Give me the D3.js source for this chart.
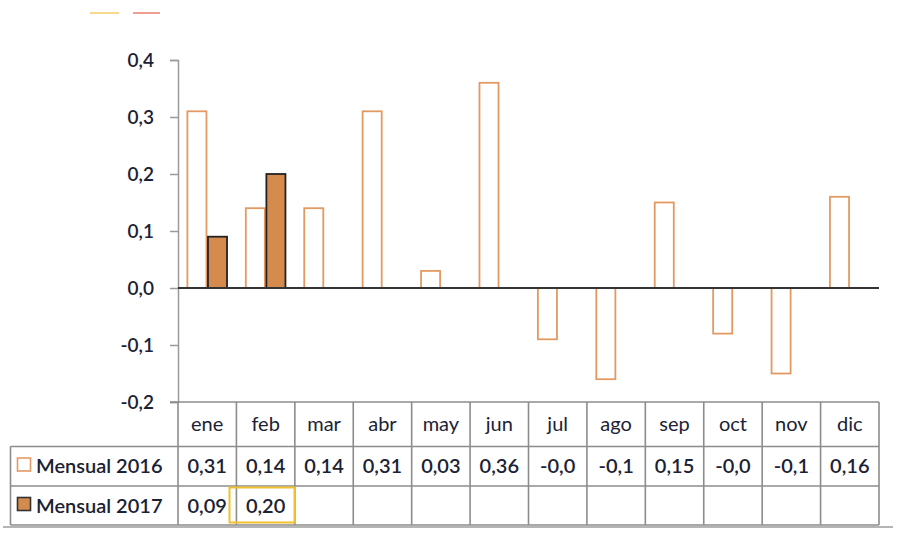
<!DOCTYPE html>
<html><head><meta charset="utf-8">
<script src="https://cdn.jsdelivr.net/npm/d3@7"></script>
<style>
html,body{margin:0;padding:0;background:#fff;}
svg{display:block;}
text{font-family:Lato,"Open Sans",sans-serif;fill:#1b2235;}
</style></head><body>
<svg id="c" width="899" height="539"></svg>
<script>
const months = ["ene","feb","mar","abr","may","jun","jul","ago","sep","oct","nov","dic"];
const seriesNames = ["Mensual 2016","Mensual 2017"];
const values2016 = [0.31,0.14,0.14,0.31,0.03,0.36,-0.09,-0.16,0.15,-0.08,-0.15,0.16];
const values2017 = [0.09,0.20,null,null,null,null,null,null,null,null,null,null];
const labels2016 = ["0,31","0,14","0,14","0,31","0,03","0,36","-0,0","-0,1","0,15","-0,0","-0,1","0,16"];
const labels2017 = ["0,09","0,20","","","","","","","","","",""];
const yTicks = [-0.2,-0.1,0.0,0.1,0.2,0.3,0.4];

const svg = d3.select("#c");
const L = 178, R = 879, T = 60, B = 402;
const row1 = 446.5, row2 = 486, row3 = 525, tableLeft = 10.5;
const col2016 = "#E39A62", fill2017 = "#D58A4E";
const fs = "20px";

const y = d3.scaleLinear().domain([-0.2,0.4]).range([B,T]);
const x0 = d3.scaleBand().domain(months).range([L,R]).paddingInner(0).paddingOuter(0);
const x1 = d3.scaleBand().domain(seriesNames).range([0,x0.bandwidth()]).paddingInner(0).paddingOuter(0.42);

// faint artifacts top
svg.append("line").attr("x1",90).attr("x2",119).attr("y1",13).attr("y2",13).attr("stroke","#F7D98A").attr("stroke-width",2);
svg.append("line").attr("x1",133).attr("x2",160).attr("y1",13).attr("y2",13).attr("stroke","#EE9E95").attr("stroke-width",2);

// y axis
const yAxis = d3.axisLeft(y).tickValues(yTicks).tickSize(8).tickPadding(16)
  .tickFormat(d => d3.format(".1f")(d).replace(".",",").replace("−","-"));
const ga = svg.append("g").attr("transform",`translate(${L},0)`).call(yAxis);
ga.select(".domain").attr("stroke","#9a9a9a").attr("stroke-width",1.5);
ga.selectAll(".tick line").attr("stroke","#9a9a9a").attr("stroke-width",1.5);
ga.selectAll(".tick text").style("font-size","19px").style("font-weight","600").attr("fill","#1b2235").attr("dy","0.32em");

// bars
const g = svg.append("g");
months.forEach((m,i) => {
  const v6 = values2016[i];
  g.append("rect")
    .attr("x", x0(m)+x1("Mensual 2016")+0.75)
    .attr("width", x1.bandwidth()-1.5)
    .attr("y", y(Math.max(0,v6)))
    .attr("height", Math.abs(y(v6)-y(0)))
    .attr("fill","#fff").attr("stroke",col2016).attr("stroke-width",1.8);
  const v7 = values2017[i];
  if (v7 !== null) {
    g.append("rect")
      .attr("x", x0(m)+x1("Mensual 2017")+0.75)
      .attr("width", x1.bandwidth()-1.5)
      .attr("y", y(Math.max(0,v7)))
      .attr("height", Math.abs(y(v7)-y(0)))
      .attr("fill",fill2017).attr("stroke","#222").attr("stroke-width",1.8);
  }
});
// zero line
svg.append("line").attr("x1",L).attr("x2",R).attr("y1",y(0)).attr("y2",y(0)).attr("stroke","#333").attr("stroke-width",1.8);

// table
const grid = "#8c8c8c";
const tg = svg.append("g");
function hline(x1,x2,yy){tg.append("line").attr("x1",x1).attr("x2",x2).attr("y1",yy).attr("y2",yy).attr("stroke",grid).attr("stroke-width",1.6);}
function vline(xx,y1,y2){tg.append("line").attr("x1",xx).attr("x2",xx).attr("y1",y1).attr("y2",y2).attr("stroke",grid).attr("stroke-width",1.6);}
hline(L-8,R,B);
hline(tableLeft,R,row1);
hline(tableLeft,R,row2);
hline(tableLeft,R,row3);
vline(tableLeft,row1,row3);
months.forEach(m => vline(x0(m),B,row3));
vline(R,B,row3);
// shadow line
svg.append("line").attr("x1",3).attr("x2",893).attr("y1",527).attr("y2",527).attr("stroke","#b5b5b5").attr("stroke-width",2);

months.forEach((m,i) => {
  const cx = x0(m)+x0.bandwidth()/2;
  tg.append("text").attr("x",cx).attr("y",(B+row1)/2).attr("dy","0.35em").attr("text-anchor","middle").style("font-size",fs).text(m);
  tg.append("text").attr("x",cx).attr("y",(row1+row2)/2).attr("dy","0.35em").attr("text-anchor","middle").style("font-size",fs).style("font-weight","600").text(labels2016[i]);
  if (labels2017[i]) tg.append("text").attr("x",cx).attr("y",(row2+row3)/2).attr("dy","0.35em").attr("text-anchor","middle").style("font-size",fs).style("font-weight","600").text(labels2017[i]);
});
// legend cells
tg.append("rect").attr("x",17.5).attr("y",458).attr("width",13).attr("height",13).attr("fill","#fff").attr("stroke",col2016).attr("stroke-width",1.6);
tg.append("rect").attr("x",17.5).attr("y",497.5).attr("width",13).attr("height",13).attr("fill",fill2017).attr("stroke","#333").attr("stroke-width",1.6);
tg.append("text").attr("x",36).attr("y",(row1+row2)/2).attr("dy","0.35em").style("font-size",fs).style("font-weight","600").text(seriesNames[0]);
tg.append("text").attr("x",36).attr("y",(row2+row3)/2).attr("dy","0.35em").style("font-size",fs).style("font-weight","600").text(seriesNames[1]);
// highlight
tg.append("rect").attr("x",229.5).attr("y",487.5).attr("width",65).attr("height",35).attr("fill","none").attr("stroke","#F2BF2E").attr("stroke-width",2);
</script></body></html>
